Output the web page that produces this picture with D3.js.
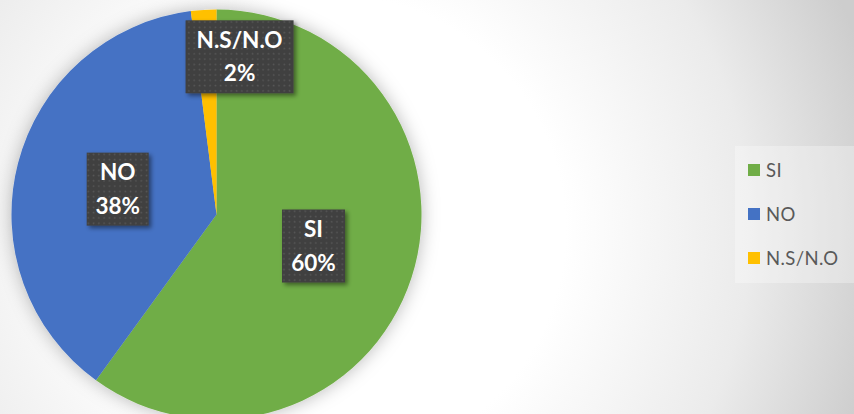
<!DOCTYPE html>
<html>
<head>
<meta charset="utf-8">
<script src="https://cdn.jsdelivr.net/npm/d3@7"></script>
<style>
html,body{margin:0;padding:0;overflow:hidden;background:#fff;}
svg{display:block;}
</style>
</head>
<body>
<script>
const categories = ["SI", "NO", "N.S/N.O"];
const values = [60, 38, 2];
const colors = ["#70AD47", "#4472C4", "#FFC000"];
const labelTexts = ["60%", "38%", "2%"];

const W = 854, H = 414;
const svg = d3.select("body").append("svg").attr("width", W).attr("height", H);
const defs = svg.append("defs");

const bg = defs.append("radialGradient").attr("id", "bg")
  .attr("gradientUnits", "userSpaceOnUse")
  .attr("cx", 330).attr("cy", 230).attr("r", 560)
  .attr("fx", 330).attr("fy", 230);
bg.append("stop").attr("offset", "0.42").attr("stop-color", "#ffffff");
bg.append("stop").attr("offset", "0.75").attr("stop-color", "#ebebeb");
bg.append("stop").attr("offset", "1").attr("stop-color", "#cdcdcd");
svg.append("rect").attr("width", W).attr("height", H).attr("fill", "url(#bg)");

const sh = defs.append("filter").attr("id", "pieShadow")
  .attr("x", "-30%").attr("y", "-30%").attr("width", "160%").attr("height", "160%");
sh.append("feDropShadow").attr("dx", 0).attr("dy", 0).attr("stdDeviation", 9)
  .attr("flood-color", "#000").attr("flood-opacity", 0.28);

const bsh = defs.append("filter").attr("id", "boxShadow")
  .attr("x", "-20%").attr("y", "-20%").attr("width", "150%").attr("height", "150%");
bsh.append("feDropShadow").attr("dx", 2.5).attr("dy", 2.5).attr("stdDeviation", 2)
  .attr("flood-color", "#000").attr("flood-opacity", 0.45);

const pat = defs.append("pattern").attr("id", "dots")
  .attr("patternUnits", "userSpaceOnUse").attr("width", 5.3).attr("height", 5.3);
pat.append("rect").attr("width", 5.3).attr("height", 5.3).attr("fill", "#3f3f3f");
pat.append("rect").attr("x", 1.5).attr("y", 1.5).attr("width", 1.6).attr("height", 1.6).attr("fill", "#585858");

const cx = 216.5, cy = 214.5, R = 205;
const pie = d3.pie().sort(null).value(d => d);
const arcs = pie(values);
const arc = d3.arc().innerRadius(0).outerRadius(R);

const g = svg.append("g").attr("transform", `translate(${cx},${cy})`);
g.append("g").attr("filter", "url(#pieShadow)")
  .selectAll("path").data(arcs).join("path")
  .attr("d", arc).attr("fill", (d, i) => colors[i]);

// label positions from arc geometry
const labelArc = d3.arc().innerRadius(102).outerRadius(102);
const outerLabelArc = d3.arc().innerRadius(158).outerRadius(158);
const boxes = [
  { w: 63, h: 73, pos: labelArc.centroid(arcs[0]), dx: 0 },
  { w: 62, h: 73, pos: labelArc.centroid(arcs[1]), dx: 0 },
  { w: 108, h: 73, pos: outerLabelArc.centroid(arcs[2]), dx: 33 }
];

const lab = g.append("g").selectAll("g").data(arcs).join("g")
  .attr("transform", (d, i) => `translate(${boxes[i].pos[0] + boxes[i].dx},${boxes[i].pos[1]})`);
lab.append("rect")
  .attr("x", (d, i) => -boxes[i].w / 2).attr("y", (d, i) => -boxes[i].h / 2)
  .attr("width", (d, i) => boxes[i].w).attr("height", (d, i) => boxes[i].h)
  .attr("fill", "url(#dots)").attr("filter", "url(#boxShadow)");
lab.append("text").attr("text-anchor", "middle").attr("y", -9)
  .attr("font-family", "Lato, 'Open Sans', sans-serif").attr("font-weight", 700)
  .attr("font-size", 22.5).attr("fill", "#fff")
  .text((d, i) => categories[i]);
lab.append("text").attr("text-anchor", "middle").attr("y", 24.5)
  .attr("font-family", "Lato, 'Open Sans', sans-serif").attr("font-weight", 700)
  .attr("font-size", 22.5).attr("fill", "#fff")
  .text((d, i) => labelTexts[i]);

// legend
const lg = svg.append("g");
lg.append("rect").attr("x", 735).attr("y", 146).attr("width", 119).attr("height", 137)
  .attr("fill", "#ffffff").attr("fill-opacity", 0.3);
const ly = d3.scalePoint().domain(categories).range([170, 258]);
const li = lg.selectAll("g").data(categories).join("g")
  .attr("transform", d => `translate(748,${ly(d)})`);
li.append("rect").attr("x", 0).attr("y", -6).attr("width", 12).attr("height", 12)
  .attr("fill", (d, i) => colors[i]);
li.append("text").attr("x", 18).attr("y", 6.5)
  .attr("font-family", "Lato, 'Open Sans', sans-serif").attr("font-size", 18.5)
  .attr("letter-spacing", 0.4)
  .attr("fill", "#595959").text(d => d);
</script>
</body>
</html>
